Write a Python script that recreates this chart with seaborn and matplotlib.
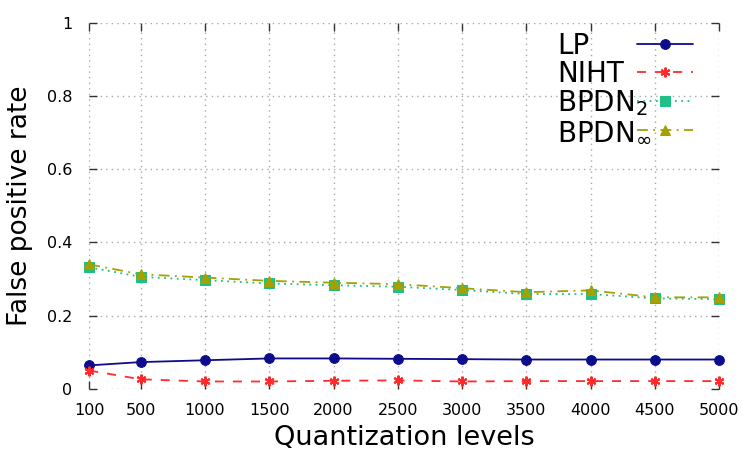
import pandas as pd
import seaborn as sns
import matplotlib.pyplot as plt

# Quantization levels on the x axis
levels = [100, 500, 1000, 1500, 2000, 2500, 3000, 3500, 4000, 4500, 5000]

# False positive rate per method
lp = [0.064, 0.073, 0.078, 0.083, 0.083, 0.082, 0.081, 0.080, 0.080, 0.080, 0.080]
niht = [0.050, 0.026, 0.020, 0.020, 0.022, 0.023, 0.020, 0.021, 0.021, 0.021, 0.021]
bpdn2 = [0.332, 0.306, 0.297, 0.288, 0.283, 0.279, 0.270, 0.259, 0.259, 0.247, 0.245]
bpdninf = [0.340, 0.313, 0.304, 0.295, 0.290, 0.286, 0.275, 0.264, 0.269, 0.250, 0.250]

labels = ["LP", "NIHT", r"BPDN$_2$", r"BPDN$_\infty$"]
series = [lp, niht, bpdn2, bpdninf]

styles = {
    "LP": dict(color="#0c0c8c", linestyle="-", marker="o", markersize=7),
    "NIHT": dict(color="#ff2a2a", linestyle=(0, (5, 5)), marker=(6, 2, 0), markersize=7, markeredgewidth=1.5),
    r"BPDN$_2$": dict(color="#1fbf86", linestyle=(0, (1, 2.5)), marker="s", markersize=6.5),
    r"BPDN$_\infty$": dict(color="#a6a000", linestyle=(0, (6, 3, 1, 3)), marker="^", markersize=7),
}

sns.set_style("white")
plt.rcParams['font.family'] = ['DejaVu Sans']
plt.rcParams['text.color'] = 'black'
plt.rcParams['axes.labelcolor'] = 'black'
plt.rcParams['xtick.color'] = 'black'
plt.rcParams['ytick.color'] = 'black'

fig = plt.figure(figsize=(7.5, 4.5), dpi=100)
ax = fig.add_axes([0.119, 0.136, 0.84, 0.813])

for name, vals in zip(labels, series):
    df = pd.DataFrame({"level": levels, "rate": vals})
    st = dict(styles[name])
    sns.lineplot(data=df, x="level", y="rate", ax=ax, label=name, linewidth=1.3,
                 markeredgecolor=st["color"], clip_on=False, zorder=3, **st)

ax.set_xlim(100, 5000)
ax.set_ylim(0, 1)
ax.set_xticks(levels)
ax.set_xticklabels([str(v) for v in levels])
ax.set_yticks([0, 0.2, 0.4, 0.6, 0.8, 1])
ax.set_yticklabels(["0", "0.2", "0.4", "0.6", "0.8", "1"])

for s in ax.spines.values():
    s.set_visible(False)
ax.grid(True, linestyle=(0, (1, 3)), color="#a8a8a8", linewidth=1)
ax.tick_params(direction="in", length=6, width=1, color="#333333", labelsize=11.5,
               top=True, right=True, bottom=True, left=True, pad=10)
ax.tick_params(axis="y", pad=12)

ax.set_xlabel("Quantization levels", fontsize=19.5, labelpad=5)
ax.set_ylabel("False positive rate", fontsize=19, labelpad=10)

# gnuplot-like key: text left-aligned, line samples aligned in their own column
handles, names = ax.get_legend_handles_labels()
leg_text = ax.legend(handles, names, loc="upper left", bbox_to_anchor=(0.743, 0.975),
                     frameon=False, fontsize=20, handlelength=0, handletextpad=0,
                     borderpad=0, borderaxespad=0, labelspacing=0.0)
for h in leg_text.legend_handles:
    h.set_visible(False)
ax.add_artist(leg_text)
leg_lines = ax.legend(handles, names, loc="upper left", bbox_to_anchor=(0.870, 0.975),
                      frameon=False, fontsize=20, handlelength=2.0, handletextpad=0,
                      borderpad=0, borderaxespad=0, labelspacing=0.0)
for t in leg_lines.get_texts():
    t.set_alpha(0)

plt.savefig("out.png", dpi=100)
plt.close()
